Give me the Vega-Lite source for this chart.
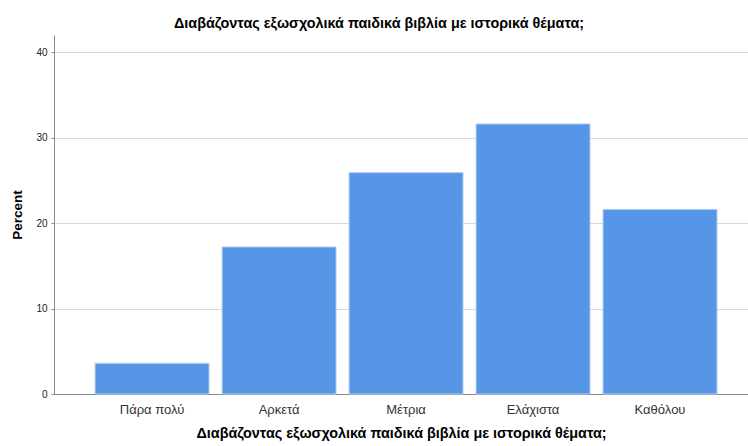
{
  "$schema": "https://vega.github.io/schema/vega-lite/v6.json",
  "width": 694,
  "height": 359,
  "autosize": "none",
  "padding": {"left": 54, "top": 35, "right": 0, "bottom": 52},
  "background": "white",
  "config": {
    "font": "Liberation Sans",
    "view": {"stroke": null}
  },
  "title": {
    "text": "Διαβάζοντας εξωσχολικά παιδικά βιβλία με ιστορικά θέματα;",
    "fontSize": 14.4,
    "fontWeight": "bold",
    "color": "#000000",
    "anchor": "middle",
    "dx": -22,
    "offset": 4
  },
  "data": {
    "values": [
      {"category": "Πάρα πολύ", "percent": 3.6},
      {"category": "Αρκετά", "percent": 17.2},
      {"category": "Μέτρια", "percent": 25.9},
      {"category": "Ελάχιστα", "percent": 31.6},
      {"category": "Καθόλου", "percent": 21.6}
    ]
  },
  "mark": {"type": "bar", "color": "#5596E6", "stroke": "#B9D0F2", "strokeWidth": 1},
  "encoding": {
    "x": {
      "field": "category",
      "type": "nominal",
      "sort": null,
      "scale": {"paddingInner": 0.1024, "paddingOuter": 0.2837, "align": 0.57},
      "axis": {
        "title": "Διαβάζοντας εξωσχολικά παιδικά βιβλία με ιστορικά θέματα;",
        "titleFontSize": 14.4,
        "titleFontWeight": "bold",
        "titleColor": "#000000",
        "titlePadding": 10,
        "labelAngle": 0,
        "labelFontSize": 13,
        "labelColor": "#333333",
        "labelPadding": 9,
        "ticks": false,
        "domainColor": "#888888",
        "domainWidth": 1
      }
    },
    "y": {
      "field": "percent",
      "type": "quantitative",
      "scale": {"domain": [0, 42], "nice": false},
      "axis": {
        "title": "Percent",
        "titleFontSize": 13.5,
        "titleFontWeight": "bold",
        "titleColor": "#000000",
        "titlePadding": 11,
        "values": [0, 10, 20, 30, 40],
        "labelFontSize": 10,
        "labelColor": "#222222",
        "labelPadding": 4,
        "tickSize": 3,
        "tickColor": "#888888",
        "domainColor": "#888888",
        "grid": true,
        "gridColor": "#D9D9D9",
        "gridWidth": 1
      }
    }
  }
}
